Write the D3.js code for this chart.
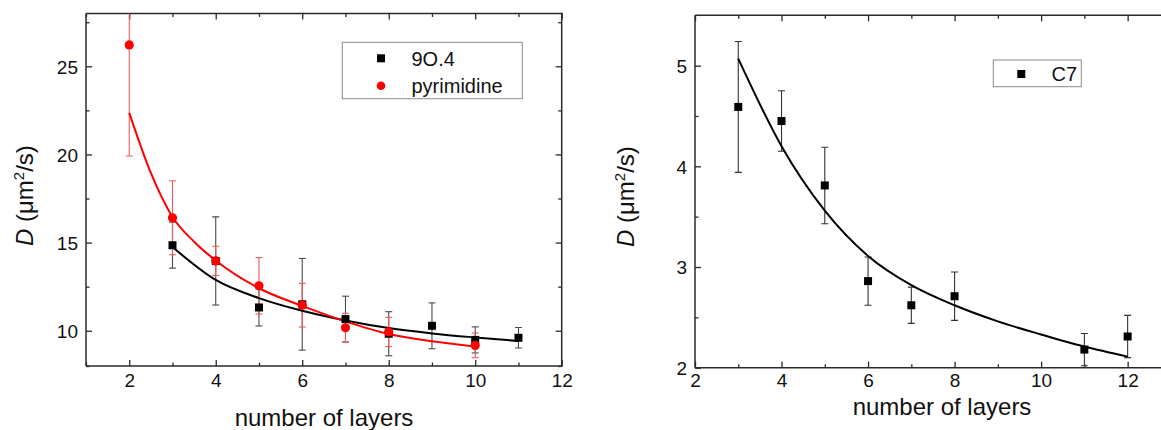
<!DOCTYPE html>
<html>
<head>
<meta charset="utf-8">
<script src="https://cdn.jsdelivr.net/npm/d3@7"></script>
<style>
  html, body { margin: 0; padding: 0; background: #fff; }
  svg { display: block; font-family: "Liberation Sans", Arial, sans-serif; }
</style>
</head>
<body>
<svg id="chart" width="1161" height="430"></svg>
<script>
// ---------- Data ----------
// Left panel: series "9O.4" (black squares)
const layers904 = [3, 4, 5, 6, 7, 8, 9, 10, 11];
const d904      = [14.85, 13.96, 11.32, 11.5, 10.66, 9.83, 10.28, 9.48, 9.6];
const err904    = [1.3, 2.5, 1.05, 2.6, 1.3, 1.25, 1.3, 0.74, 0.58];
// fit curve for 9O.4
const fit904X = [3, 4, 5, 6, 7, 8, 9, 10, 11];
const fit904Y = [14.75, 12.88, 11.85, 11.13, 10.58, 10.15, 9.85, 9.62, 9.42];

// Left panel: series "pyrimidine" (red circles)
const layersPyr = [2, 3, 4, 5, 6, 7, 8, 10];
const dPyr      = [26.21, 16.41, 13.96, 12.55, 11.45, 10.17, 9.93, 9.17];
const errPyr    = [6.3, 2.1, 0.83, 1.6, 1.24, 0.82, 0.83, 0.7];
const fitPyrX = [2, 2.5, 3, 3.5, 4, 5, 6, 7, 8, 9, 10];
const fitPyrY = [22.36, 18.95, 16.45, 15.05, 13.98, 12.41, 11.41, 10.53, 9.81, 9.4, 9.11];

// Right panel: series "C7" (black squares)
const layersC7 = [3, 4, 5, 6, 7, 8, 11, 12];
const dC7      = [4.59, 4.45, 3.81, 2.86, 2.62, 2.71, 2.18, 2.31];
const errC7    = [0.65, 0.3, 0.38, 0.24, 0.18, 0.24, 0.16, 0.21];
const fitC7X = [3, 4, 5, 6, 7, 8, 9, 10, 11, 12];
const fitC7Y = [5.07, 4.2, 3.56, 3.11, 2.82, 2.62, 2.46, 2.33, 2.21, 2.11];

// Tick values
const leftXTicks = [2, 4, 6, 8, 10, 12];
const leftXMinor = [1, 3, 5, 7, 9, 11];
const leftYTicks = [10, 15, 20, 25];
const leftYMinor = [8, 12.5, 17.5, 22.5, 27.5];
const rightXTicks = [2, 4, 6, 8, 10, 12];
const rightXMinor = [3, 5, 7, 9, 11];
const rightYTicks = [2, 3, 4, 5];
const rightYMinor = [2.5, 3.5, 4.5];

const legendLeft = ["9O.4", "pyrimidine"];
const legendRight = ["C7"];

// ---------- Drawing ----------
const svg = d3.select("#chart");
const FRAME = "#2a2a2a";

function panel(cfg) {
  const g = svg.append("g");
  const x = d3.scaleLinear().domain(cfg.xDomain).range(cfg.xRange);
  const y = d3.scaleLinear().domain(cfg.yDomain).range(cfg.yRange);
  const [x0, x1] = cfg.xRange;
  const [y0, y1] = cfg.yRange; // y0 bottom, y1 top

  const clipId = "clip" + cfg.id;
  svg.append("clipPath").attr("id", clipId)
    .append("rect").attr("x", x0).attr("y", y1)
    .attr("width", Math.min(x1, 1161) - x0).attr("height", y0 - y1);

  // Axes (ticks inward)
  const majorLen = 6, minorLen = 3.5;
  const bottom = d3.axisBottom(x).tickValues(cfg.xTicks).tickSizeInner(-majorLen).tickSizeOuter(0).tickPadding(cfg.xPad).tickFormat(d3.format("d"));
  const gb = g.append("g").attr("transform", `translate(0,${y0})`).call(bottom);
  const left = d3.axisLeft(y).tickValues(cfg.yTicks).tickSizeInner(-majorLen).tickSizeOuter(0).tickPadding(8).tickFormat(d3.format("d"));
  const gl = g.append("g").attr("transform", `translate(${x0},0)`).call(left);
  const top = d3.axisTop(x).tickValues(cfg.xTicks).tickSizeInner(-majorLen).tickSizeOuter(0).tickFormat("");
  const gt = g.append("g").attr("transform", `translate(0,${y1})`).call(top);
  const groups = [gb, gl, gt];

  // minor ticks
  const minorB = d3.axisBottom(x).tickValues(cfg.xMinor).tickSizeInner(-minorLen).tickSizeOuter(0).tickFormat("");
  groups.push(g.append("g").attr("transform", `translate(0,${y0})`).call(minorB));
  const minorT = d3.axisTop(x).tickValues(cfg.xMinor).tickSizeInner(-minorLen).tickSizeOuter(0).tickFormat("");
  groups.push(g.append("g").attr("transform", `translate(0,${y1})`).call(minorT));
  const minorL = d3.axisLeft(y).tickValues(cfg.yMinor).tickSizeInner(-minorLen).tickSizeOuter(0).tickFormat("");
  groups.push(g.append("g").attr("transform", `translate(${x0},0)`).call(minorL));

  if (cfg.rightAxis) {
    const right = d3.axisRight(y).tickValues(cfg.yTicks).tickSizeInner(-majorLen).tickSizeOuter(0).tickFormat("");
    groups.push(g.append("g").attr("transform", `translate(${x1},0)`).call(right));
    const minorR = d3.axisRight(y).tickValues(cfg.yMinor).tickSizeInner(-minorLen).tickSizeOuter(0).tickFormat("");
    groups.push(g.append("g").attr("transform", `translate(${x1},0)`).call(minorR));
  }
  groups.forEach(a => {
    a.select(".domain").remove();
    a.selectAll(".tick line").attr("stroke", FRAME).attr("stroke-width", 1.3);
    a.selectAll(".tick text").attr("font-size", 19).attr("fill", "#111")
      .attr("font-family", '"Liberation Sans", Arial, sans-serif');
  });
  gl.selectAll(".tick text").attr("dy", "0.36em");

  // Frame
  const frame = g.append("g").attr("stroke", FRAME).attr("stroke-width", 1.5).attr("fill", "none");
  frame.append("line").attr("x1", x0).attr("x2", x1 + 1).attr("y1", y0).attr("y2", y0);
  frame.append("line").attr("x1", x0).attr("x2", x1 + 1).attr("y1", y1).attr("y2", y1);
  frame.append("line").attr("x1", x0).attr("x2", x0).attr("y1", y1).attr("y2", y0);
  if (cfg.rightAxis) frame.append("line").attr("x1", x1).attr("x2", x1).attr("y1", y1).attr("y2", y0);

  const plot = g.append("g").attr("clip-path", `url(#${clipId})`);
  const line = d3.line().x(d => x(d[0])).y(d => y(d[1])).curve(d3.curveMonotoneX);

  cfg.series.forEach(s => {
    const pts = s.xs.map((v, i) => ({ x: v, y: s.ys[i], e: s.errs[i] }));
    const eb = plot.append("g").attr("stroke", s.errColor).attr("stroke-width", 1.1).attr("fill", "none");
    pts.forEach(p => {
      const cap = 3.5;
      eb.append("line").attr("x1", x(p.x)).attr("x2", x(p.x)).attr("y1", y(p.y - p.e)).attr("y2", y(p.y + p.e));
      eb.append("line").attr("x1", x(p.x) - cap).attr("x2", x(p.x) + cap).attr("y1", y(p.y - p.e)).attr("y2", y(p.y - p.e));
      eb.append("line").attr("x1", x(p.x) - cap).attr("x2", x(p.x) + cap).attr("y1", y(p.y + p.e)).attr("y2", y(p.y + p.e));
    });
  });
  cfg.series.forEach(s => {
    const fit = s.fitX.map((v, i) => [v, s.fitY[i]]);
    plot.append("path").datum(fit).attr("d", line)
      .attr("fill", "none").attr("stroke", s.color).attr("stroke-width", 2);
  });
  cfg.series.forEach(s => {
    const pts = s.xs.map((v, i) => ({ x: v, y: s.ys[i] }));
    if (s.shape === "square") {
      plot.selectAll(null).data(pts).enter().append("rect")
        .attr("x", d => x(d.x) - 4).attr("y", d => y(d.y) - 4)
        .attr("width", 8).attr("height", 8).attr("fill", s.color);
    } else {
      plot.selectAll(null).data(pts).enter().append("circle")
        .attr("cx", d => x(d.x)).attr("cy", d => y(d.y)).attr("r", 4.6).attr("fill", s.color);
    }
  });

  // Axis titles
  g.append("text").attr("x", cfg.xTitlePos[0]).attr("y", cfg.xTitlePos[1])
    .attr("text-anchor", "middle").attr("font-size", 24).attr("fill", "#111")
    .text("number of layers");
  const yt = g.append("text")
    .attr("transform", `translate(${cfg.yTitlePos[0]},${cfg.yTitlePos[1]}) rotate(-90)`)
    .attr("text-anchor", "start").attr("font-size", 24).attr("fill", "#111");
  yt.append("tspan").attr("font-style", "italic").text("D");
  yt.append("tspan").text(" (μm");
  yt.append("tspan").attr("font-size", 15).attr("dy", -9).text("2");
  yt.append("tspan").attr("dy", 9).text("/s)");

  // Legend
  const L = cfg.legend;
  const lg = g.append("g");
  lg.append("rect").attr("x", L.x).attr("y", L.y).attr("width", L.w).attr("height", L.h)
    .attr("fill", "#fff").attr("stroke", "#8a8a8a").attr("stroke-width", 1);
  L.labels.forEach((lab, i) => {
    const s = cfg.series[i];
    const cy = L.y + L.rowStart + i * L.rowGap;
    if (s.shape === "square") {
      lg.append("rect").attr("x", L.markX - 4).attr("y", cy - 4).attr("width", 8).attr("height", 8).attr("fill", s.color);
    } else {
      lg.append("circle").attr("cx", L.markX).attr("cy", cy).attr("r", 4.3).attr("fill", s.color);
    }
    lg.append("text").attr("x", L.textX).attr("y", cy).attr("dy", "0.36em")
      .attr("font-size", 20).attr("fill", "#111").text(lab);
  });
}

panel({
  id: "L",
  xDomain: [1, 12], xRange: [86, 561.7],
  yDomain: [8, 28], yRange: [366, 13.4],
  xTicks: leftXTicks, xMinor: leftXMinor, yTicks: leftYTicks, yMinor: leftYMinor,
  rightAxis: true, xPad: 8,
  series: [
    { xs: layers904, ys: d904, errs: err904, fitX: fit904X, fitY: fit904Y, color: "#000", errColor: "#4a4a4a", shape: "square" },
    { xs: layersPyr, ys: dPyr, errs: errPyr, fitX: fitPyrX, fitY: fitPyrY, color: "#ff0000", errColor: "#ee5a5a", shape: "circle" }
  ],
  xTitlePos: [324, 426],
  yTitlePos: [33, 246],
  legend: { x: 342.3, y: 42.3, w: 180, h: 56.4, rowStart: 16, rowGap: 27.4, markX: 381, textX: 411.5, labels: legendLeft }
});

panel({
  id: "R",
  xDomain: [2, 13], xRange: [695, 1170.9],
  yDomain: [2, 5.5], yRange: [367.7, 15.3],
  xTicks: rightXTicks, xMinor: rightXMinor, yTicks: rightYTicks, yMinor: rightYMinor,
  rightAxis: false, xPad: 6,
  series: [
    { xs: layersC7, ys: dC7, errs: errC7, fitX: fitC7X, fitY: fitC7Y, color: "#000", errColor: "#333", shape: "square" }
  ],
  xTitlePos: [942, 415],
  yTitlePos: [634, 247],
  legend: { x: 993.3, y: 60, w: 88, h: 26.7, rowStart: 14, rowGap: 0, markX: 1021.3, textX: 1051.5, labels: legendRight }
});
</script>
</body>
</html>
